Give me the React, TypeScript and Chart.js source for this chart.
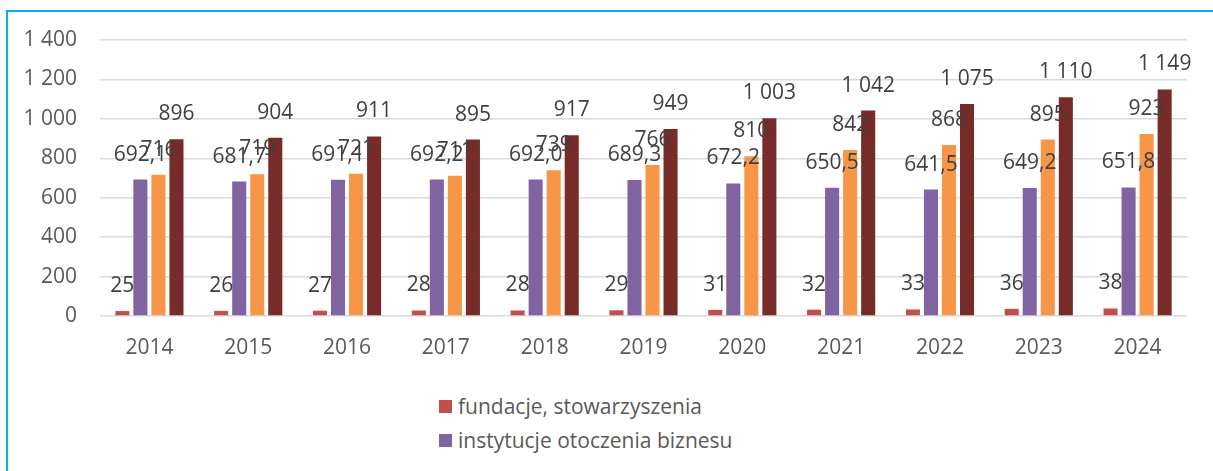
import React, { useEffect, useRef } from "react";
import { Chart, registerables } from "chart.js";

Chart.register(...registerables);

const categories = ["2014", "2015", "2016", "2017", "2018", "2019", "2020", "2021", "2022", "2023", "2024"];
const fundacje = [25, 26, 27, 28, 28, 29, 31, 32, 33, 36, 38];
const instytucje = [692.1, 681.7, 691.1, 692.2, 692.0, 689.3, 672.2, 650.5, 641.5, 649.2, 651.8];
const series3 = [716, 719, 721, 711, 739, 766, 810, 842, 868, 895, 923];
const series4 = [896, 904, 911, 895, 917, 949, 1003, 1042, 1075, 1110, 1149];
const seriesDecimals = [0, 1, 0, 0];
const legendNames = ["fundacje, stowarzyszenia", "instytucje otoczenia biznesu"];
const seriesColors = ["#C0504D", "#8064A2", "#F79646", "#772C2A"];
const yMin = 0;
const yMax = 1400;
const yStep = 200;

const FONT = "'Open Sans', 'DejaVu Sans', sans-serif";
const FS = 21;

function fmt(v: number, decimals: number): string {
  const s = v.toFixed(decimals);
  const [intPart, dec] = s.split(".");
  const withSpaces = intPart.replace(/\B(?=(\d{3})+(?!\d))/g, " ");
  return dec !== undefined ? withSpaces + "," + dec : withSpaces;
}

const valueLabels = {
  id: "valueLabels",
  afterDatasetsDraw(chart: any) {
    const ctx = chart.ctx;
    ctx.save();
    ctx.font = FS + "px " + FONT;
    ctx.fillStyle = "#404040";
    ctx.textAlign = "center";
    ctx.textBaseline = "middle";
    chart.data.datasets.forEach((ds: any, i: number) => {
      const meta = chart.getDatasetMeta(i);
      meta.data.forEach((el: any, j: number) => {
        ctx.fillText(fmt(ds.data[j], seriesDecimals[i]), el.x, el.y - 25);
      });
    });
    ctx.restore();
  },
};

export default function App() {
  const canvasRef = useRef<HTMLCanvasElement | null>(null);

  useEffect(() => {
    let chart: Chart | null = null;
    let cancelled = false;
    const make = () => {
      if (cancelled || !canvasRef.current) return;
      const allSeries = [fundacje, instytucje, series3, series4];
      chart = new Chart(canvasRef.current, {
        type: "bar",
        data: {
          labels: categories,
          datasets: allSeries.map((d, i) => ({
            label: legendNames[i] ?? "",
            data: d,
            backgroundColor: seriesColors[i],
            borderWidth: 0,
            categoryPercentage: 0.73,
            barPercentage: 0.78,
          })),
        },
        options: {
          responsive: false,
          animation: false,
          devicePixelRatio: 1,
          layout: { padding: { top: 40, right: 26, bottom: 20, left: 0 } },
          plugins: {
            legend: { display: false },
            tooltip: { enabled: false },
          },
          scales: {
            x: {
              grid: { display: false, drawTicks: false },
              border: { display: false },
              ticks: {
                color: "#595959",
                font: { family: FONT, size: FS },
                padding: 19,
              },
              afterFit: (scale: any) => {
                scale.height = 44;
              },
            },
            y: {
              min: yMin,
              max: yMax,
              grid: { color: "#d9d9d9", lineWidth: 1.5, drawTicks: false },
              border: { display: false },
              ticks: {
                stepSize: yStep,
                color: "#595959",
                font: { family: FONT, size: FS },
                padding: 23,
                callback: (v: any) => fmt(Number(v), 0),
              },
              afterFit: (scale: any) => {
                scale.width = 100;
              },
            },
          },
        },
        plugins: [valueLabels],
      });
    };
    const fonts: any = (document as any).fonts;
    if (fonts && fonts.load) {
      fonts.load(FS + "px 'Open Sans'").then(make, make);
    } else {
      make();
    }
    return () => {
      cancelled = true;
      if (chart) chart.destroy();
    };
  }, []);

  return (
    <div
      style={{
        position: "fixed",
        left: 0,
        top: 0,
        width: 1213,
        height: 471,
        overflow: "hidden",
        background: "#ffffff",
      }}
    >
      <div
        style={{
          position: "absolute",
          left: 6,
          top: 10,
          width: 1260,
          height: 520,
          border: "2px solid #00B0F0",
          boxSizing: "border-box",
        }}
      />
      <canvas
        ref={canvasRef}
        width={1213}
        height={380}
        style={{ position: "absolute", left: 0, top: 0, width: 1213, height: 380 }}
      />
      {legendNames.map((name, i) => (
        <div
          key={name}
          style={{
            position: "absolute",
            left: 439,
            top: 392 + i * 34,
            height: 28,
            display: "flex",
            alignItems: "center",
            fontFamily: FONT,
            fontSize: FS,
            color: "#595959",
            whiteSpace: "nowrap",
          }}
        >
          <span
            style={{
              display: "inline-block",
              width: 13,
              height: 13,
              background: seriesColors[i],
              marginRight: 6,
            }}
          />
          <span>{name}</span>
        </div>
      ))}
    </div>
  );
}
